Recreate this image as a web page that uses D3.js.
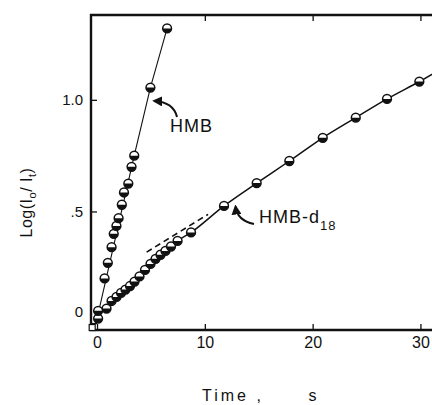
<!DOCTYPE html>
<html>
<head>
<meta charset="utf-8">
<script src="https://cdn.jsdelivr.net/npm/d3@7"></script>
<style>
  body { margin: 0; background: #fff; }
  svg { display: block; }
  text { font-family: "Liberation Sans", "DejaVu Sans", sans-serif; fill: #111; }
</style>
</head>
<body>
<div id="chart"></div>
<script>
var svgWidth = 432;
var svgHeight = 405;

// HMB series: time (s), log(Io/It)
var hmbTime = [0.1, 0.1, 0.7, 1.0, 1.35, 1.55, 1.8, 2.0, 2.3, 2.5, 2.9, 3.2, 3.45, 4.95, 6.5];
var hmbValue = [0.02, 0.055, 0.20, 0.27, 0.34, 0.40, 0.435, 0.47, 0.53, 0.585, 0.625, 0.70, 0.75, 1.055, 1.32];
// line drawn through the HMB points
var hmbLineTime = [0, 3.45, 4.95, 6.5];
var hmbLineValue = [0.02, 0.75, 1.055, 1.32];

// HMB-d18 series
var d18Time = [0.88, 1.35, 1.81, 2.23, 2.64, 3.06, 3.48, 3.94, 4.45, 4.96, 5.43, 5.89, 6.35, 6.86, 7.47, 8.72,
  11.78, 14.81, 17.84, 20.94, 24.0, 26.9, 29.9];
var d18Value = [0.065, 0.099, 0.117, 0.135, 0.150, 0.166, 0.186, 0.209, 0.238, 0.265, 0.288, 0.306, 0.323, 0.343, 0.368, 0.406,
  0.525, 0.627, 0.726, 0.830, 0.920, 1.004, 1.082];
// solid line extends past the last point
var d18LineEndTime = 32;
var d18LineEndValue = 1.14;
// dashed extrapolation of the late straight part
var dashTime = [4.6, 10.3];
var dashValue = [0.318, 0.487];

// small open square at the origin
var originMark = [-0.45, -0.02];

var xTicks = [0, 10, 20, 30];
var xTickLabels = ["0", "10", "20", "30"];
var yTicks = [0, 0.5, 1.0];
var yTickLabels = ["0", ".5", "1.0"];

var svg = d3.select("#chart")
  .append("svg")
  .attr("width", svgWidth)
  .attr("height", svgHeight);

var plotLeft = 91, plotRight = 436.6, plotTop = 15, plotBottom = 330;

var xScale = d3.scaleLinear().domain([-0.56, 31.5]).range([plotLeft, plotRight]);
var yScale = d3.scaleLinear().domain([-0.031, 1.38]).range([plotBottom, plotTop]);

// axes, ticks pointing inward
var bottomAxis = d3.axisBottom(xScale)
  .tickValues(xTicks)
  .tickFormat((d, i) => xTickLabels[i])
  .tickSize(-6)
  .tickPadding(7);

var topAxis = d3.axisTop(xScale)
  .tickValues(xTicks.slice(1))
  .tickFormat("")
  .tickSize(-6);

var leftAxis = d3.axisLeft(yScale)
  .tickValues(yTicks)
  .tickFormat((d, i) => yTickLabels[i])
  .tickSize(-6)
  .tickPadding(8);

var xAxis = svg.append("g")
  .attr("transform", `translate(0, ${plotBottom})`)
  .call(bottomAxis);

svg.append("g")
  .attr("transform", `translate(0, ${plotTop})`)
  .call(topAxis);

var yAxis = svg.append("g")
  .attr("transform", `translate(${plotLeft}, 0)`)
  .call(leftAxis);

svg.selectAll(".domain").remove();
svg.selectAll(".tick line").attr("stroke", "#111").attr("stroke-width", 1.3);
xAxis.selectAll("text").style("font-size", "16px").attr("fill", "#111");
yAxis.selectAll("text").style("font-size", "15px").attr("fill", "#111");
// the zero label sits a little above its tick
yAxis.selectAll(".tick text").filter(d => d === 0).attr("dy", "-0.45em");

// frame
svg.append("path")
  .attr("d", `M${plotRight},${plotTop} L${plotLeft},${plotTop} L${plotLeft},${plotBottom} L${plotRight},${plotBottom}`)
  .attr("fill", "none")
  .attr("stroke", "#111")
  .attr("stroke-width", 2.4);

// lines
var line = d3.line().x(d => xScale(d[0])).y(d => yScale(d[1]));

var hmbLine = hmbLineTime.map((t, i) => [t, hmbLineValue[i]]);
svg.append("path")
  .attr("d", line(hmbLine))
  .attr("fill", "none")
  .attr("stroke", "#111")
  .attr("stroke-width", 1.1);

var d18Line = d18Time.map((t, i) => [t, d18Value[i]]);
d18Line.push([d18LineEndTime, d18LineEndValue]);
svg.append("path")
  .attr("d", d3.line().x(d => xScale(d[0])).y(d => yScale(d[1])).curve(d3.curveMonotoneX)(d18Line))
  .attr("fill", "none")
  .attr("stroke", "#111")
  .attr("stroke-width", 1.5);

svg.append("path")
  .attr("d", line(dashTime.map((t, i) => [t, dashValue[i]])))
  .attr("fill", "none")
  .attr("stroke", "#111")
  .attr("stroke-width", 1.6)
  .attr("stroke-dasharray", "6,4");

// half-shaded bead markers
var r = 4.4;
function drawBeads(times, values) {
  var pts = times.map((t, i) => [t, values[i]]);
  var g = svg.append("g");
  var beads = g.selectAll("g")
    .data(pts)
    .enter()
    .append("g")
    .attr("transform", d => `translate(${xScale(d[0])}, ${yScale(d[1])})`);
  beads.append("circle")
    .attr("r", r)
    .attr("fill", "#fff")
    .attr("stroke", "#111")
    .attr("stroke-width", 1.5);
  beads.append("path")
    .attr("d", `M${-r},0 A${r},${r} 0 0 0 ${r},0 Z`)
    .attr("fill", "#111");
}
drawBeads(d18Time, d18Value);
drawBeads(hmbTime, hmbValue);

svg.append("rect")
  .attr("x", xScale(originMark[0]) - 3)
  .attr("y", yScale(originMark[1]) - 3)
  .attr("width", 6)
  .attr("height", 6)
  .attr("fill", "#fff")
  .attr("stroke", "#111")
  .attr("stroke-width", 1.2);

// annotations
var defs = svg.append("defs");
defs.append("marker")
  .attr("id", "arrow")
  .attr("viewBox", "0 0 10 10")
  .attr("refX", 8)
  .attr("refY", 5)
  .attr("markerWidth", 5)
  .attr("markerHeight", 5)
  .attr("orient", "auto")
  .append("path")
  .attr("d", "M0,0 L10,5 L0,10 Z")
  .attr("fill", "#111");

function arrow(tail, ctrl, head) {
  svg.append("path")
    .attr("d", `M${xScale(tail[0])},${yScale(tail[1])} Q${xScale(ctrl[0])},${yScale(ctrl[1])} ${xScale(head[0])},${yScale(head[1])}`)
    .attr("fill", "none")
    .attr("stroke", "#111")
    .attr("stroke-width", 2)
    .attr("marker-end", "url(#arrow)");
}
arrow([7.42, 0.923], [7.1, 0.99], [5.3, 0.995]);
arrow([14.56, 0.444], [13.0, 0.46], [12.85, 0.522]);

svg.append("text")
  .attr("x", xScale(6.77))
  .attr("y", yScale(0.855))
  .style("font-size", "18px")
  .style("letter-spacing", "1px")
  .text("HMB");

var d18Label = svg.append("text")
  .attr("x", xScale(15.03))
  .attr("y", yScale(0.448))
  .style("font-size", "18px")
  .style("letter-spacing", "1px");
d18Label.append("tspan").text("HMB-d");
d18Label.append("tspan").attr("dy", 7).style("font-size", "13px").text("18");

// axis titles
var yTitle = svg.append("text")
  .attr("transform", `translate(32, ${yScale(0.54)}) rotate(-90)`)
  .attr("text-anchor", "middle")
  .style("font-size", "16px")
  .style("letter-spacing", "0.5px");
yTitle.append("tspan").text("Log(I");
yTitle.append("tspan").attr("dy", 4).style("font-size", "11px").text("o");
yTitle.append("tspan").attr("dy", -4).text("/ I");
yTitle.append("tspan").attr("dy", 4).style("font-size", "11px").text("t");
yTitle.append("tspan").attr("dy", -4).text(")");

svg.append("text")
  .attr("x", 202)
  .attr("y", 401)
  .style("font-size", "16px")
  .style("letter-spacing", "3px")
  .style("white-space", "pre")
  .text("Time ,      s");
</script>
</body>
</html>
